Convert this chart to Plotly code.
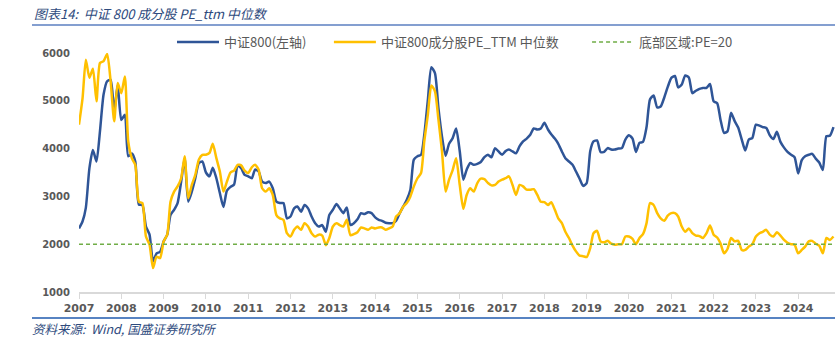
import pandas as pd
import plotly.graph_objects as go

# Monthly observations, Jan 2007 - Nov 2024
dates = pd.date_range("2007-01-01", periods=215, freq="MS")

csi800 = [
    # 2007
    2330, 2480, 2760, 3590, 3970, 3730, 4360, 5130, 5410, 5440, 4780, 5330,
    # 2008
    4600, 4710, 3840, 3900, 3730, 2830, 2820, 2370, 2200, 1640, 1810, 1840,
    # 2009
    2060, 2200, 2610, 2720, 2860, 3310, 3800, 2890, 3100, 3380, 3700, 3730,
    # 2010
    3500, 3420, 3600, 3380, 3070, 2780, 3120, 3200, 3250, 3640, 3590, 3450,
    # 2011
    3420, 3380, 3560, 3520, 3310, 3280, 3310, 3170, 2890, 2860, 2860, 2540,
    # 2012
    2580, 2750, 2790, 2680, 2820, 2750, 2580, 2440, 2370, 2400, 2260, 2610,
    # 2013
    2720, 2840, 2750, 2650, 2770, 2400, 2440, 2520, 2650, 2630, 2670, 2650,
    # 2014
    2560, 2510, 2490, 2450, 2440, 2440, 2490, 2650, 2790, 2930, 3140, 3770,
    # 2015
    3840, 3870, 4290, 5020, 5700, 5580, 4850, 4250, 3850, 4100, 4220, 4420,
    # 2016
    3950, 3350, 3560, 3700, 3660, 3680, 3720, 3820, 3870, 3820, 4010, 3940,
    # 2017
    3870, 3950, 3980, 3940, 3900, 4050, 4150, 4210, 4290, 4420, 4400, 4420,
    # 2018
    4540, 4400, 4300, 4210, 4100, 3940, 3800, 3730, 3660, 3520, 3370, 3220,
    # 2019
    3280, 3950, 4150, 4170, 3930, 3930, 4010, 3980, 3980, 4000, 4010, 4190,
    # 2020
    4280, 4210, 3930, 4120, 4140, 4450, 5030, 5110, 4860, 4880, 5070, 5290,
    # 2021
    5480, 5520, 5280, 5340, 5530, 5490, 5160, 5210, 5250, 5270, 5270, 5350,
    # 2022
    4990, 4950, 4610, 4330, 4360, 4750, 4580, 4440, 4190, 3960, 4190, 4220,
    # 2023
    4500, 4480, 4450, 4430, 4280, 4200, 4350, 4140, 4020, 3930, 3870, 3820,
    # 2024
    3480, 3760, 3840, 3870, 3890, 3790, 3710, 3550, 4260, 4270, 4450,
]

pe_median = [
    # 2007
    45.0, 50.6, 58.6, 54.8, 56.7, 49.9, 57.9, 58.3, 59.8, 54.1, 45.7, 53.7,
    # 2008
    51.6, 55.1, 41.5, 38.0, 36.6, 28.9, 28.6, 21.6, 19.9, 15.0, 17.4, 17.1,
    # 2009
    20.6, 22.0, 28.9, 31.0, 32.1, 33.8, 38.4, 29.6, 32.4, 34.5, 37.7, 38.7,
    # 2010
    38.7, 39.1, 41.0, 38.0, 35.2, 31.0, 33.1, 35.0, 35.4, 36.6, 36.5, 35.4,
    # 2011
    34.9, 36.1, 36.6, 35.6, 31.7, 31.0, 31.7, 30.3, 26.1, 25.4, 25.1, 22.3,
    # 2012
    21.6, 23.0, 23.7, 23.0, 24.4, 23.7, 22.3, 21.6, 22.0, 21.8, 19.8, 21.3,
    # 2013
    23.7, 24.4, 24.0, 23.7, 25.1, 21.9, 22.1, 22.5, 23.5, 23.3, 23.0, 23.5,
    # 2014
    23.3, 23.5, 23.5, 23.0, 23.3, 23.7, 25.8, 26.5, 27.9, 28.6, 30.0, 32.1,
    # 2015
    33.8, 34.9, 41.5, 47.1, 53.2, 52.0, 46.1, 39.4, 31.0, 33.5, 35.5, 38.0,
    # 2016
    32.4, 27.4, 30.3, 31.7, 31.0, 32.8, 33.7, 33.6, 32.8, 32.3, 32.4, 33.1,
    # 2017
    33.5, 33.8, 34.2, 32.4, 30.3, 32.4, 32.1, 31.4, 31.4, 31.5, 30.3, 28.9,
    # 2018
    28.8, 28.2, 28.8, 27.2, 25.4, 24.4, 22.6, 21.3, 19.7, 18.5, 17.6, 17.5,
    # 2019
    17.3, 19.2, 22.3, 22.8, 20.6, 20.4, 20.7, 20.1, 19.9, 20.0, 20.0, 21.6,
    # 2020
    21.6, 21.1, 20.0, 21.3, 22.1, 24.4, 28.6, 28.2, 26.5, 25.4, 24.9, 26.0,
    # 2021
    26.5, 26.5, 25.8, 23.7, 22.6, 23.3, 22.3, 21.8, 21.7, 21.3, 22.3, 23.9,
    # 2022
    22.0, 21.4, 20.2, 18.1, 19.0, 21.3, 20.6, 20.7, 18.8, 18.8, 19.5, 20.0,
    # 2023
    21.6, 22.3, 22.6, 23.0, 22.0, 21.6, 22.5, 21.8, 20.9, 20.3, 20.0, 19.9,
    # 2024
    18.1, 18.8, 19.5, 20.6, 20.7, 20.1, 19.7, 18.1, 21.3, 20.9, 21.6,
]

pe_floor = 20
index_ticks = [1000, 2000, 3000, 4000, 5000, 6000]

# pixel frame of the plotting area
W, H = 835, 337
L, R, T, B = 79, 0, 53, 45
pw, ph = W - L - R, H - T - B


def px(xp):
    return (xp - L) / pw


def py(yp):
    return (H - B - yp) / ph


NB = "\u00a0"  # spacing between legend entries

fig = go.Figure()
fig.add_trace(go.Scatter(
    x=dates, y=csi800, name="中证800(左轴)" + NB * 6, mode="lines",
    line=dict(color="#2F5597", width=2.5, shape="spline", smoothing=0.6),
))
fig.add_trace(go.Scatter(
    x=dates, y=pe_median, name="中证800成分股PE_TTM 中位数" + NB * 8, mode="lines",
    yaxis="y2",
    line=dict(color="#FFC000", width=2.5, shape="spline", smoothing=0.6),
))
fig.add_trace(go.Scatter(
    x=[dates[0], dates[-1]], y=[pe_floor, pe_floor], name="底部区域:PE=20",
    mode="lines", yaxis="y2",
    line=dict(color="#70AD47", width=1.5, dash="4px,3px"),
))

title_color = "#2E4A7D"
fig.update_layout(
    width=W, height=H,
    margin=dict(l=L, r=R, t=T, b=B, pad=0),
    paper_bgcolor="white", plot_bgcolor="white",
    showlegend=True,
    legend=dict(
        orientation="h", x=px(172), y=py(42), xanchor="left", yanchor="middle",
        font=dict(family="Noto Sans CJK SC", size=13, color="#595959"),
        itemwidth=42, bgcolor="rgba(0,0,0,0)",
    ),
    xaxis=dict(
        type="date",
        range=["2007-01-01", "2024-11-14"],
        tick0="2007-01-01", dtick="M12", tickformat="%Y",
        ticks="outside", ticklen=5, tickcolor="#D9D9D9",
        showline=True, linecolor="#D9D9D9", linewidth=1.5,
        showgrid=False, zeroline=False,
        tickfont=dict(family="DejaVu Sans", size=11, color="#595959", weight="bold"),
    ),
    yaxis=dict(
        range=[1000, 6000], tickvals=index_ticks,
        showgrid=False, zeroline=False, showline=False, ticks="",
        ticklabelstandoff=8,
        tickfont=dict(family="DejaVu Sans", size=10, color="#595959", weight="bold"),
    ),
    yaxis2=dict(range=[10, 60], overlaying="y", side="right", visible=False),
    annotations=[
        dict(text="<i>图表14:  中证 800 成分股 PE_ttm 中位数</i>", xref="paper", yref="paper",
             x=px(32), y=py(13), xanchor="left", yanchor="middle", showarrow=False,
             font=dict(family="Noto Sans CJK SC", size=13, color=title_color)),
        dict(text="<i>资料来源:  Wind, 国盛证券研究所</i>", xref="paper", yref="paper",
             x=px(30), y=py(328), xanchor="left", yanchor="middle", showarrow=False,
             font=dict(family="Noto Sans CJK SC", size=12.5, color=title_color)),
    ],
    shapes=[
        dict(type="line", xref="paper", yref="paper", x0=px(32), x1=px(835),
             y0=py(25), y1=py(25), line=dict(color="#5B7FC0", width=1.5)),
        dict(type="line", xref="paper", yref="paper", x0=px(32), x1=px(835),
             y0=py(318), y1=py(318), line=dict(color="#1F5AAE", width=1.5)),
    ],
)

fig.write_html("out.html")
